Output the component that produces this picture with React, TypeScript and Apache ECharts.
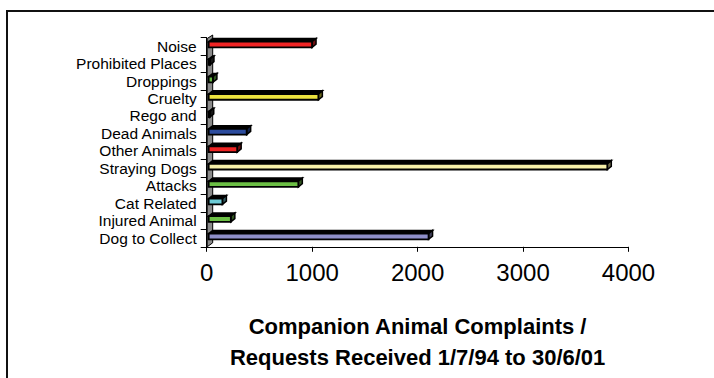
import React, { useEffect, useRef } from "react";
import * as echarts from "echarts";

const categories = [
  "Noise",
  "Prohibited Places",
  "Droppings",
  "Cruelty",
  "Rego and",
  "Dead Animals",
  "Other Animals",
  "Straying Dogs",
  "Attacks",
  "Cat Related",
  "Injured Animal",
  "Dog to Collect",
];
const complaints = [980, 12, 40, 1040, 10, 360, 270, 3780, 850, 130, 210, 2085];
const xTicks = [0, 1000, 2000, 3000, 4000];
const titleLines = ["Companion Animal Complaints /", "Requests Received 1/7/94 to 30/6/01"];

const barColors = [
  "#f02424",
  "#333333",
  "#66bb44",
  "#ece23e",
  "#333333",
  "#2c4c9e",
  "#ee2424",
  "#f6f0a8",
  "#6cbf45",
  "#6ccbd6",
  "#6cbf45",
  "#8e8ec8",
];

const FONT = '"Liberation Sans", Arial, sans-serif';

function darken(hex: string, f: number) {
  const n = parseInt(hex.slice(1), 16);
  const r = Math.round(((n >> 16) & 255) * f);
  const g = Math.round(((n >> 8) & 255) * f);
  const b = Math.round((n & 255) * f);
  return `rgb(${r},${g},${b})`;
}

export default function App() {
  const ref = useRef<HTMLDivElement>(null);
  useEffect(() => {
    if (!ref.current) return;
    const chart = echarts.init(ref.current, null, { renderer: "svg" });
    const gridLeft = 206.7;
    const gridTop = 37.5;
    const gridBottomY = 246.8;
    chart.setOption({
      animation: false,
      backgroundColor: "#ffffff",
      grid: { left: gridLeft, right: 714 - 628.5, top: gridTop, bottom: 378 - gridBottomY, containLabel: false },
      graphic: [
        {
          type: "polyline",
          shape: { points: [[7, 378], [7, 11], [714, 11]] },
          style: { stroke: "#111", lineWidth: 2, fill: null },
          z: 0,
        },
        {
          type: "polygon",
          shape: {
            points: [
              [gridLeft + 0.5, gridBottomY],
              [gridLeft + 0.5, gridTop + 1],
              [gridLeft + 6, gridTop - 2.5],
              [gridLeft + 6, gridBottomY - 4],
            ],
          },
          style: { fill: "#8a8a8a", stroke: "#000", lineWidth: 1 },
          z: 0,
        },
      ],
      xAxis: {
        type: "value",
        min: xTicks[0],
        max: xTicks[xTicks.length - 1],
        interval: xTicks[1] - xTicks[0],
        splitLine: { show: false },
        axisLine: { show: true, lineStyle: { color: "#000", width: 1 } },
        axisTick: { show: true, length: 5, lineStyle: { color: "#000" } },
        axisLabel: {
          color: "#000",
          fontSize: 24,
          fontFamily: FONT,
          margin: 14,
          formatter: (v: number) => String(v),
        },
        name: titleLines.join("\n"),
        nameLocation: "middle",
        nameGap: 64,
        nameTextStyle: {
          color: "#000",
          fontSize: 22,
          fontWeight: "bold",
          fontFamily: FONT,
          lineHeight: 31,
        },
      },
      yAxis: {
        type: "category",
        data: categories,
        inverse: true,
        axisLine: { show: true, lineStyle: { color: "#000", width: 1 } },
        axisTick: { show: true, length: 6, interval: 0, lineStyle: { color: "#000" } },
        axisLabel: {
          color: "#000",
          fontSize: 15.5,
          fontFamily: FONT,
          margin: 10,
          interval: 0,
          padding: [0, 0, 5, 0],
        },
        splitLine: { show: false },
      },
      series: [
        {
          type: "custom",
          z: 5,
          clip: false,
          encode: { x: 0, y: 1 },
          data: complaints.map((v, i) => [v, i]),
          renderItem: (params: any, api: any) => {
            const v = api.value(0);
            const cat = api.value(1);
            const p0 = api.coord([0, cat]);
            const p1 = api.coord([v, cat]);
            const color = barColors[params.dataIndex];
            const dark = darken(color, 0.45);
            const x0 = p0[0] + 2;
            const x1 = p1[0] + 2;
            const cy = p0[1];
            const yTop = cy - 4.5;
            const yBot = cy + 1.2;
            const dx = 4;
            const dy = 3.2;
            return {
              type: "group",
              children: [
                {
                  type: "polygon",
                  shape: {
                    points: [
                      [x0, yTop],
                      [x0 + dx, yTop - dy],
                      [x1 + dx, yTop - dy],
                      [x1, yTop],
                    ],
                  },
                  style: { fill: "#000", stroke: "#000", lineWidth: 1.5 },
                },
                {
                  type: "polygon",
                  shape: {
                    points: [
                      [x1, yTop],
                      [x1 + dx, yTop - dy],
                      [x1 + dx, yBot - dy],
                      [x1, yBot],
                    ],
                  },
                  style: { fill: dark, stroke: "#000", lineWidth: 1.5 },
                },
                {
                  type: "rect",
                  shape: { x: x0, y: yTop, width: Math.max(x1 - x0, 0.5), height: yBot - yTop },
                  style: { fill: color, stroke: "#000", lineWidth: 1.8 },
                },
              ],
            };
          },
        },
      ],
    });
    return () => chart.dispose();
  }, []);
  return (
    <div
      ref={ref}
      style={{ position: "fixed", left: 0, top: 0, width: 714, height: 378, background: "#fff" }}
    />
  );
}
